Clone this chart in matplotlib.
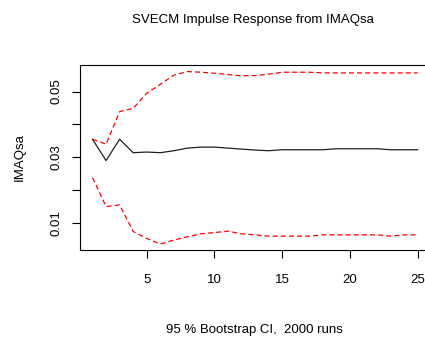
import numpy as np
import matplotlib
matplotlib.use("Agg")
import matplotlib.pyplot as plt

plt.rcParams['font.family'] = ['Liberation Sans', 'DejaVu Sans']

steps = np.arange(1, 26)
irf = [0.0355, 0.0290, 0.0355, 0.0314, 0.0316, 0.0314, 0.0320, 0.0328, 0.0331, 0.0331,
       0.0328, 0.0325, 0.0322, 0.0320, 0.0323, 0.0323, 0.0323, 0.0323, 0.0326, 0.0326,
       0.0326, 0.0326, 0.0323, 0.0323, 0.0323]
upper = [0.0355, 0.0340, 0.0439, 0.0449, 0.0495, 0.0522, 0.0550, 0.0561, 0.0559, 0.0556,
         0.0552, 0.0548, 0.0549, 0.0553, 0.0559, 0.0559, 0.0559, 0.0557, 0.0557, 0.0557,
         0.0557, 0.0557, 0.0557, 0.0557, 0.0557]
lower = [0.0238, 0.0150, 0.0155, 0.0074, 0.0053, 0.0036, 0.0048, 0.0058, 0.0067, 0.0071,
         0.0075, 0.0067, 0.0064, 0.0060, 0.0060, 0.0060, 0.0060, 0.0064, 0.0064, 0.0064,
         0.0064, 0.0064, 0.0060, 0.0064, 0.0064]

W, H = 425, 340
fig = plt.figure(figsize=(W / 100, H / 100), dpi=100)
# plot region runs past the right edge like the original crop
ax = fig.add_axes([79.5 / W, 1 - 250 / H, (430.7 - 79.5) / W, (250 - 65) / H])

ax.plot(steps, irf, color='#202020', lw=0.9)
ax.plot(steps, upper, color='red', lw=0.9, ls=(0, (4, 2.5)))
ax.plot(steps, lower, color='red', lw=0.9, ls=(0, (4, 2.5)))

ax.set_xlim(0.04, 25.96)
ax.set_ylim(0.00178, 0.0581)
ax.set_xticks([5, 10, 15, 20, 25])
ax.set_yticks([0.01, 0.02, 0.03, 0.04, 0.05])
ax.set_yticklabels(['0.01', '', '0.03', '', '0.05'], rotation=90, va='center')
ax.tick_params(direction='out', length=6, width=0.8, labelsize=9.5)
ax.tick_params(axis='x', pad=11.5)
ax.tick_params(axis='y', pad=6.5)
for s in ax.spines.values():
    s.set_linewidth(0.8)

fig.text(253 / W, 1 - 20 / H, 'SVECM Impulse Response from IMAQsa', ha='center', va='center', fontsize=9.5)
fig.text(20 / W, 1 - 157 / H, 'IMAQsa', ha='center', va='center', rotation=90, fontsize=9.5)
fig.text(254 / W, 1 - 330 / H, '95 % Bootstrap CI,  2000 runs', ha='center', va='center', fontsize=9.5)

fig.savefig('out.png', dpi=100)
